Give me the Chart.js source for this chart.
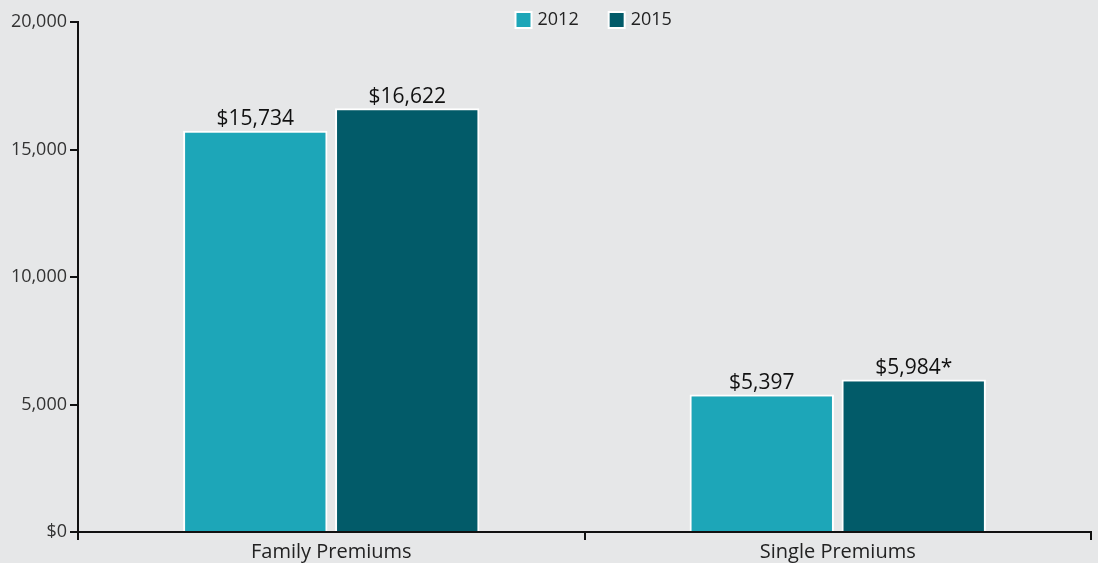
<!DOCTYPE html>
<html>
<head>
<meta charset="utf-8">
<script src="https://cdn.jsdelivr.net/npm/chart.js@4.4.1/dist/chart.umd.min.js"></script>
<style>
  html, body { margin: 0; padding: 0; background: #e6e7e8; }
  #wrap { width: 1098px; height: 563px; }
</style>
</head>
<body>
<div id="wrap"><canvas id="premiums"></canvas></div>
<script>
const categories = ['Family Premiums', 'Single Premiums'];
const seriesNames = ['2012', '2015'];
const values2012 = [15734, 5397];
const values2015 = [16622, 5984];
const labels2012 = ['$15,734', '$5,397'];
const labels2015 = ['$16,622', '$5,984*'];
const yTicks = [0, 5000, 10000, 15000, 20000];

const colors = ['#1da6b8', '#025b69'];
const FONT = '"Open Sans", sans-serif';

// value labels above the bars
const barLabels = {
    id: 'barLabels',
    afterDatasetsDraw(chart) {
        const ctx = chart.ctx;
        const texts = [labels2012, labels2015];
        ctx.save();
        ctx.font = '21px ' + FONT;
        ctx.fillStyle = '#111';
        ctx.textAlign = 'center';
        ctx.textBaseline = 'bottom';
        chart.data.datasets.forEach((ds, i) => {
            chart.getDatasetMeta(i).data.forEach((bar, j) => {
                ctx.fillText(texts[i][j], bar.x, bar.y - 1);
            });
        });
        ctx.restore();
    }
};

// small legend sitting over the top of the plot
const topLegend = {
    id: 'topLegend',
    afterDraw(chart) {
        const ctx = chart.ctx;
        const area = chart.chartArea;
        ctx.save();
        ctx.font = '18px ' + FONT;
        ctx.textBaseline = 'middle';
        let x = (area.left + area.right) / 2 - 69;
        const y = 20;
        chart.data.datasets.forEach(ds => {
            ctx.fillStyle = '#fff';
            ctx.fillRect(x - 1, y - 9, 18, 18);
            ctx.fillStyle = ds.backgroundColor;
            ctx.fillRect(x + 1, y - 7, 14, 14);
            ctx.fillStyle = '#222';
            ctx.fillText(ds.label, x + 22, y);
            x += 22 + ctx.measureText(ds.label).width + 30;
        });
        ctx.restore();
    }
};

new Chart(document.getElementById('premiums'), {
    type: 'bar',
    data: {
        labels: categories,
        datasets: [
            { label: seriesNames[0], data: values2012, backgroundColor: colors[0], borderColor: '#fff', borderWidth: 2 },
            { label: seriesNames[1], data: values2015, backgroundColor: colors[1], borderColor: '#fff', borderWidth: 2 }
        ]
    },
    options: {
        responsive: true,
        maintainAspectRatio: false,
        animation: false,
        categoryPercentage: 0.6,
        barPercentage: 0.95,
        layout: { padding: { top: 22, right: 7, left: 0, bottom: 0 } },
        plugins: {
            tooltip: { enabled: false },
            legend: { display: false }
        },
        scales: {
            x: {
                offset: true,
                border: { color: '#111', width: 2 },
                grid: { offset: true, drawOnChartArea: false, drawTicks: true, tickLength: 8, color: '#111', lineWidth: 2 },
                ticks: { font: { family: FONT, size: 20 }, color: '#222', padding: 0 },
                afterFit(scale) { scale.height = 31; }
            },
            y: {
                min: 0,
                max: 20000,
                border: { color: '#111', width: 2 },
                grid: { drawOnChartArea: false, drawTicks: true, tickLength: 8, color: '#111', lineWidth: 2 },
                afterBuildTicks(scale) { scale.ticks = yTicks.map(v => ({ value: v })); },
                ticks: {
                    font: { family: FONT, size: 18 },
                    color: '#333',
                    padding: 3,
                    callback: v => v === 0 ? '$0' : v.toLocaleString('en-US')
                },
                afterFit(scale) { scale.width = 78; }
            }
        }
    },
    plugins: [barLabels, topLegend]
});
</script>
</body>
</html>
